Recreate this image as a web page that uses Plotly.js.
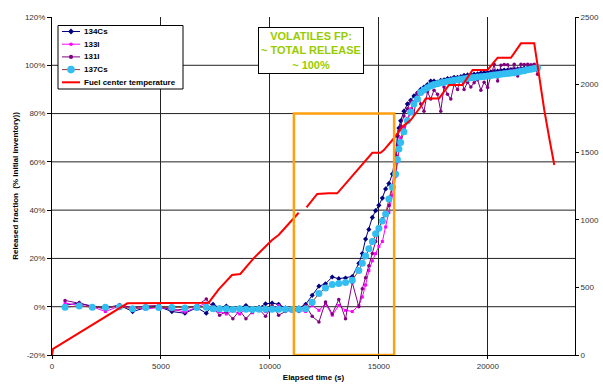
<!DOCTYPE html>
<html>
<head>
<meta charset="utf-8">
<script src="https://cdn.plot.ly/plotly-3.0.1.min.js"></script>
<style>html,body{margin:0;padding:0;background:#fff;}#chart{width:603px;height:385px;}</style>
</head>
<body>
<div id="chart"></div>
<script>
// ---- data ----
const time = [600,1250,1850,2450,3100,3700,4300,4900,5500,6100,
  6650,7080,7390,7690,8000,8300,8610,8900,9200,9500,
  9800,10100,10400,10710,11020,11330,11640,11940,12250,12550,
  12860,13160,13470,13780,14080,14240,14390,14540,14700,14850,
  15000,15160,15310,15460,15620,15770,15850,15920,16000,16150,
  16310,16460,16610,16770,16920,17070,17230,17380,17530,17690,
  17840,17990,18150,18300,18450,18610,18760,18910,19070,19220,
  19370,19530,19680,19830,19990,20140,20290,20450,20600,20750,
  20910,21060,21210,21370,21520,21670,21830,21980,22130,22280];

const cs134 = [0.6,1.5,0,-0.4,0.6,-2.0,-0.4,0,-2.0,-2.7,
  -0.4,-2.7,1.0,-0.5,0.3,-1.0,-0.5,0.5,-1.2,-0.3,
  1.2,1.5,1.0,-0.5,-1.0,-0.5,1.0,4.7,8.5,9.5,
  12.3,11.6,11.9,12.5,18,22,28,32,37,39.8,
  42,45,48.8,51,55,62.5,70.8,74,77,81,
  84,85.5,87.3,88.5,90,91,92,93.5,93.5,93,
  93.8,94,94.5,94.5,95,95,95.3,95.8,96,96,
  96.3,96.5,96.8,97,97,97.3,97.5,97.6,97.8,98,
  98,98.2,98.3,98.5,98.6,98.8,99,99,99.2,99.3];

const i133 = [1.5,0.5,0,-2.0,0.3,-0.5,-1.0,-0.3,-1.0,-2.2,
  0,1.5,-1.5,-2.0,-3.0,-1.5,-3.0,-1.0,-2.5,-0.5,
  -2.0,-1.0,0.5,-1.5,-2.0,-1.5,-2.0,0.5,-1.5,1.2,
  -3.5,0.5,-1.5,-2.0,0.5,4,9,15,19,22,
  25,27,33,39,46,54,60,66,70,74,
  78,82,85,87,88.5,89.5,90,91,91.5,92,
  92.5,93,93.2,93.5,94,94,94.3,94.5,95,95,
  95.2,95.5,95.8,96,96,96.3,96.5,96.8,97,97.2,
  97.5,97.6,97.8,98,98.2,98.4,98.6,98.8,99,99];

const i131 = [2.6,1.5,0.3,-1.0,0.8,-0.5,0.3,0.5,-1.5,-1.0,
  0.5,3.2,-0.5,-3.5,-2.0,-5.0,-1.5,-5.0,-2.0,-1.0,
  -4.0,0.5,-3.5,-2.0,-1.0,-2.0,0.5,-4.0,-6.3,2.0,
  -3.0,3.0,-5.0,10,0,7.4,12,17,22,27,
  32,36.4,39,41.9,50,62.5,67,72.9,75,79,
  82,85,80,88.7,84,81,89,86,89.7,88,
  81,91,88,86,92,90,95,90,93,91,
  92.8,94,89.7,93,90.8,96,100.4,93.5,100,100.3,
  100.2,97,100.4,95.6,100.4,100.3,100.4,100.2,100.4,96.3];

const cs137 = [-0.2,0.3,-0.2,-0.2,0,-0.8,-0.3,-0.3,-0.3,-0.5,
  -0.3,-0.2,-0.8,-0.8,-0.8,-1.2,-0.8,-1.0,-1.2,-1.0,
  -1.0,-1.0,-1.0,-1.0,-1.2,-1.0,-0.8,1.9,5.5,7.8,
  9.2,9.6,10,11,15,18,21,24,27,30.2,
  32.5,35.5,38.4,44.6,49.5,55,61,65.3,68,72.5,
  77,80.5,84,86,88.7,89.8,90.7,91.5,92,92.4,
  92.8,93,93.3,93.5,93.8,94,94.2,94.4,94.6,94.8,
  94.9,95.1,95.3,95.4,95.6,95.8,96,96.1,96.3,96.5,
  96.6,96.8,96.9,97.2,97.5,97.7,98.1,98.4,98.7,99];

const tempTime = [0,50,3460,7190,7650,8260,8640,9250,10100,10400,11320,null,
  11680,12170,12700,13090,14700,15080,15230,15690,16080,16460,16920,
  17150,17760,18220,18840,19300,19990,20450,21060,21520,22130,22590,22820,23050];
const fuelTemp = [0,45,382,387,486,592,599,715,851,888,1052,null,
  1092,1191,1196,1196,1496,1496,1516,1603,1689,1738,1836,
  1898,1898,1997,1997,2108,2108,2199,2199,2305,2305,1812,1603,1405];

const seriesNames = ['134Cs','133I','131I','137Cs','Fuel center temperature'];
const xTickVals = [0,5000,10000,15000,20000];
const xTickText = ['0','5000','10000','15000','20000'];
const yTickVals = [-20,0,20,40,60,80,100,120];
const yTickText = ['-20%','0%','20%','40%','60%','80%','100%','120%'];
const y2TickVals = [0,500,1000,1500,2000,2500];
const y2TickText = ['0','500','1000','1500','2000','2500'];
const gridValues = [0,20,40,60,80,100];
const highlightTime = [11100,15700];
const highlightFraction = [-20,80];
const noteLines = ['VOLATILES FP:','~ TOTAL RELEASE','~ 100%'];

// ---- styles ----
const FONT = 'Liberation Sans, Arial, sans-serif';
const styles = [
  {line: '#000080', lw: 1, marker: '#000080', symbol: 'diamond', size: 4},
  {line: '#FF00FF', lw: 1, marker: '#FF00FF', symbol: 'square', size: 3},
  {line: '#800080', lw: 1, marker: '#800080', symbol: 'circle', size: 3.5},
  {line: '#993333', lw: 1, marker: '#33BEF2', symbol: 'circle', size: 7},
  {line: '#FF0000', lw: 2, marker: null}
];
const seriesY = [cs134, i133, i131, cs137];

const traces = seriesY.map((ys, i) => ({
  x: time, y: ys, name: seriesNames[i], mode: 'lines+markers', showlegend: false,
  line: {color: styles[i].line, width: styles[i].lw},
  marker: {symbol: styles[i].symbol, size: styles[i].size, color: styles[i].marker}
}));
traces.push({x: tempTime, y: fuelTemp, name: seriesNames[4], mode: 'lines', yaxis: 'y2',
  showlegend: false, connectgaps: false, line: {color: styles[4].line, width: styles[4].lw}});

// plot-area pixel helpers for the hand-built legend box (layout only)
const PL = 52, PW = 523, PT = 17, PH = 338;
const px = v => (v - PL) / PW;
const py = v => (PT + PH - v) / PH;

const shapes = gridValues.map(v => ({
  type: 'line', xref: 'paper', yref: 'y', x0: 0, x1: 1, y0: v, y1: v,
  layer: 'below', line: {color: '#222', width: 1}
}));
shapes.push({
  type: 'rect', xref: 'x', yref: 'y',
  x0: highlightTime[0], x1: highlightTime[1], y0: highlightFraction[0], y1: highlightFraction[1],
  line: {color: '#FFA010', width: 2.5}, fillcolor: 'rgba(0,0,0,0)'
});
// legend box
shapes.push({type: 'rect', xref: 'paper', yref: 'paper', x0: px(58), x1: px(183), y0: py(89), y1: py(25.5),
  line: {color: '#000', width: 1}, fillcolor: '#fff', layer: 'above'});
const annotations = [];
seriesNames.forEach((name, i) => {
  const yy = py(31.5 + i * 12.7);
  const st = styles[i];
  shapes.push({type: 'line', xref: 'paper', yref: 'paper', x0: px(62), x1: px(80), y0: yy, y1: yy,
    line: {color: st.line, width: st.lw}});
  if (st.marker) {
    const r = st.size / 2 + 0.3;
    if (st.symbol === 'diamond') {
      shapes.push({type: 'path', xref: 'paper', yref: 'paper', xsizemode: 'pixel', ysizemode: 'pixel',
        xanchor: px(71), yanchor: yy, path: `M 0 ${r+0.6} L ${r+0.6} 0 L 0 ${-r-0.6} L ${-r-0.6} 0 Z`,
        fillcolor: st.marker, line: {width: 0}});
    } else {
      shapes.push({type: 'circle', xref: 'paper', yref: 'paper', xsizemode: 'pixel', ysizemode: 'pixel',
        xanchor: px(71), yanchor: yy, x0: -r, x1: r, y0: -r, y1: r,
        fillcolor: st.marker, line: {width: 0}});
    }
  }
  annotations.push({xref: 'paper', yref: 'paper', x: px(82), y: yy, xanchor: 'left', yanchor: 'middle',
    text: '<b>' + name + '</b>', showarrow: false, font: {family: FONT, size: 8, color: '#000'}});
});
annotations.push({
  xref: 'paper', yref: 'paper', x: 0.495, y: 0.901, xanchor: 'center', yanchor: 'middle',
  text: '<b>' + noteLines.join('<br>') + '</b>', showarrow: false, align: 'center',
  font: {family: FONT, size: 11, color: '#99CC00'},
  bgcolor: '#fff', bordercolor: '#000', borderwidth: 1, borderpad: 2
});

const layout = {
  width: 603, height: 385,
  margin: {l: 52, r: 28, t: 17, b: 30},
  paper_bgcolor: '#fff', plot_bgcolor: '#fff',
  font: {family: FONT, size: 8, color: '#222'},
  showlegend: false,
  xaxis: {range: [0, 24000], tickvals: xTickVals, ticktext: xTickText,
    showgrid: true, gridcolor: '#222', gridwidth: 1, zeroline: false,
    showline: true, linecolor: '#000', linewidth: 1, ticks: 'outside', ticklen: 3, tickcolor: '#000',
    tickfont: {family: FONT, size: 8, color: '#333'},
    title: {text: '<b>Elapsed time (s)</b>', font: {family: FONT, size: 8, color: '#000'}, standoff: 4}},
  yaxis: {range: [-20, 120], tickvals: yTickVals, ticktext: yTickText,
    showgrid: false, zeroline: false,
    showline: true, linecolor: '#000', linewidth: 1, ticks: 'outside', ticklen: 4, tickcolor: '#000',
    tickfont: {family: FONT, size: 8, color: '#333'},
    title: {text: '<b>Released fraction  (% initial inventory))</b>', font: {family: FONT, size: 8, color: '#000'}, standoff: 5}},
  yaxis2: {range: [0, 2500], overlaying: 'y', side: 'right', tickvals: y2TickVals, ticktext: y2TickText,
    showgrid: false, zeroline: false,
    showline: true, linecolor: '#000', linewidth: 1, ticks: 'outside', ticklen: 3, tickcolor: '#000',
    tickfont: {family: FONT, size: 8, color: '#333'}},
  shapes: shapes,
  annotations: annotations
};

Plotly.newPlot('chart', traces, layout, {displayModeBar: false, staticPlot: true});
</script>
</body>
</html>
